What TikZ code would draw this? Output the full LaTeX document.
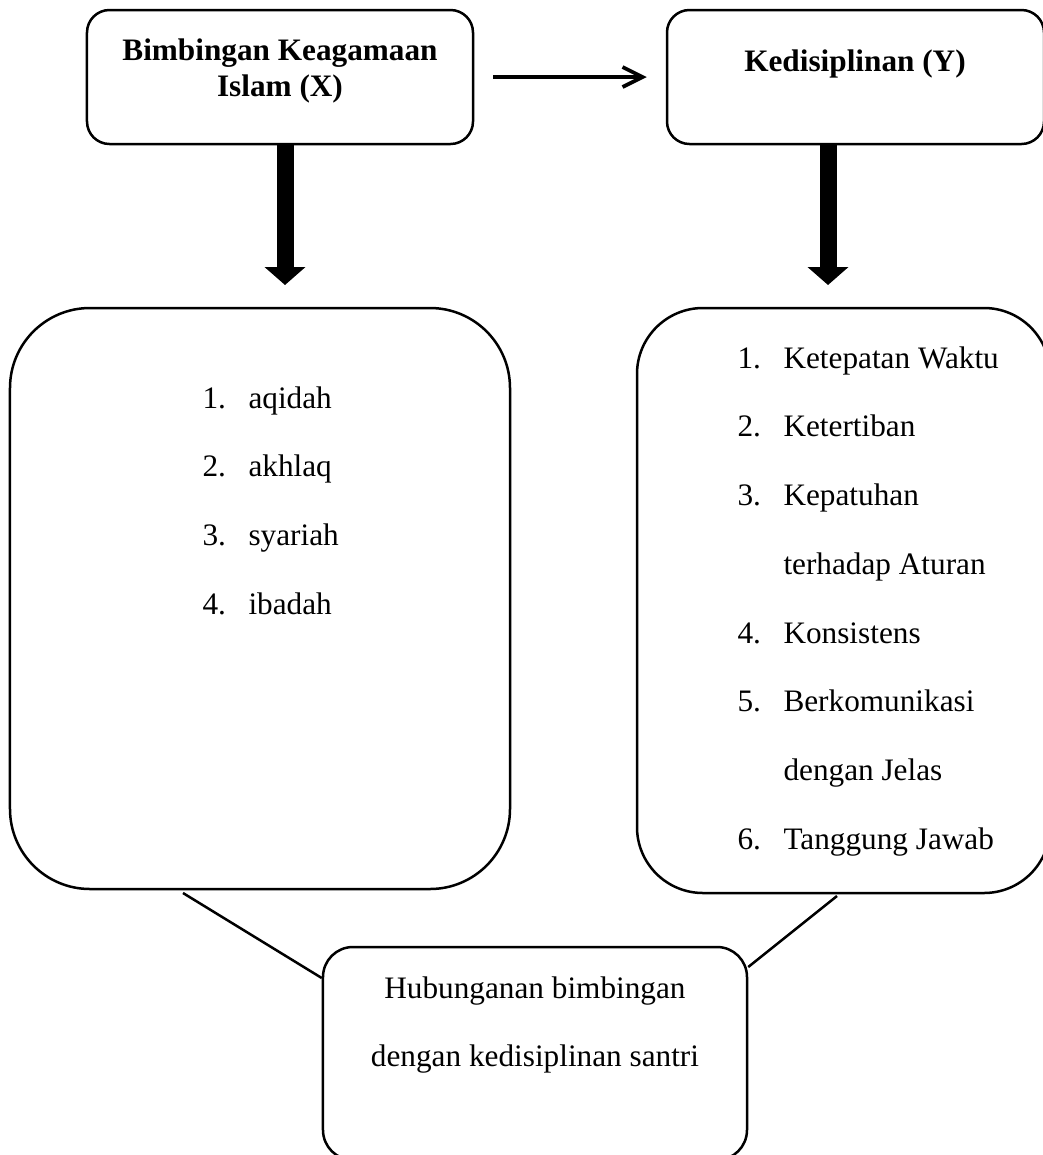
\documentclass[tikz,border=0pt]{standalone}
\usepackage{fontspec}
\setmainfont{Liberation Serif}
\usetikzlibrary{arrows.meta}

\begin{document}
\begin{tikzpicture}[x=0.4pt, y=-0.4pt,
    box/.style={draw, line width=1pt, rounded corners=#1, inner sep=0pt},
    fat/.style={line width=6.8pt, -{Triangle[width=16pt,length=7.2pt]}},
    link/.style={line width=1pt},
    txt/.style={inner sep=0pt, font=\fontsize{12.5}{14.4}\selectfont},
    list/.style={anchor=base west, inner sep=0pt, font=\fontsize{12.5}{27.5}\selectfont}]
  \useasboundingbox (0,0) rectangle (1042,1155);

  % top row
  \node[box=9pt, minimum width=154.4pt, minimum height=53.6pt] (topX) at (280,77) {};
  \node[box=9pt, minimum width=150.8pt, minimum height=53.6pt] (topY) at (855.5,77) {};
  \node[txt, anchor=base] (titleX) at (280,60)
    {\bfseries\begin{tabular}[t]{@{}c@{}}Bimbingan Keagamaan\\ Islam (X)\end{tabular}};
  \node[txt, anchor=base] (titleY) at (855,71) {\bfseries Kedisiplinan (Y)};
  \draw[line width=1.5pt, -{Straight Barb[length=8pt,width=8pt]},
    shorten <=7.6pt, shorten >=7.6pt] (topX.east) -- (topY.west);

  % indicator boxes
  \node[box=32pt, minimum width=200pt, minimum height=232.4pt] (bigX) at (260,598.5) {};
  \node[box=26.4pt, minimum width=165.2pt, minimum height=234pt] (bigY) at (843.5,600.5) {};
  \coordinate (tipX) at (285,285);
  \coordinate (tipY) at (828,285);
  \draw[fat] (topX.south -| tipX) -- (tipX);
  \draw[fat] (topY.south -| tipY) -- (tipY);

  \node[list] (listX) at (202,408) {\begin{tabular}[t]{@{}p{18.4pt}@{}l@{}}
    1. & aqidah\\
    2. & akhlaq\\
    3. & syariah\\
    4. & ibadah
  \end{tabular}};
  \node[list] (listY) at (737,368) {\begin{tabular}[t]{@{}p{18.4pt}@{}l@{}}
    1. & Ketepatan Waktu\\
    2. & Ketertiban\\
    3. & Kepatuhan\\
       & terhadap Aturan\\
    4. & Konsistens\\
    5. & Berkomunikasi\\
       & dengan Jelas\\
    6. & Tanggung Jawab
  \end{tabular}};

  % relation box
  \node[box=12pt, minimum width=169.6pt, minimum height=85.2pt] (rel) at (535,1053.5) {};
  \node[txt, anchor=base, font=\fontsize{12.5}{27.2}\selectfont] (relText) at (535,998)
    {\begin{tabular}[t]{@{}c@{}}Hubunganan bimbingan\\ dengan kedisiplinan santri\end{tabular}};
  \coordinate (footX) at (183,893);
  \coordinate (footY) at (837,896);
  \draw[link] (footX) -- (rel.west |- 0,978);
  \draw[link] (footY) -- (rel.east |- 0,967);
\end{tikzpicture}
\end{document}
